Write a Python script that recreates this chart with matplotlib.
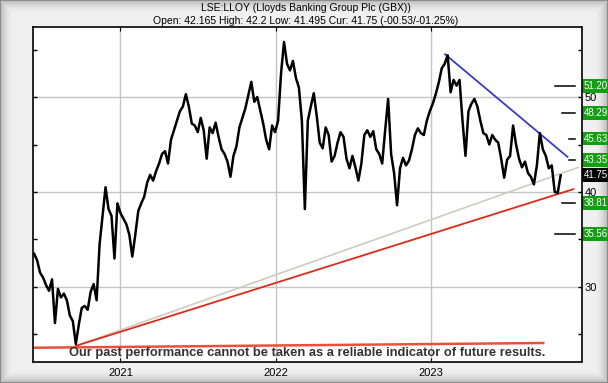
import numpy as np
import pandas as pd
import matplotlib
matplotlib.use('Agg')
import matplotlib.pyplot as plt
import matplotlib.dates as mdates
import matplotlib.transforms as mtransforms

# weekly closes (GBX)
close = [33.5, 32.8, 31.5, 31.0, 30.2, 29.6, 30.8, 26.2, 29.8, 28.9,
         29.3, 28.6, 27.0, 26.4, 24.0, 26.0, 27.8, 28.0, 27.6, 29.5,
         30.3, 28.6, 34.5, 37.5, 40.5, 38.2, 37.5, 33.0, 38.8, 37.8,
         37.2, 36.6, 35.5, 33.2, 35.5, 38.0, 38.8, 39.5, 41.0, 41.8,
         41.2, 42.2, 43.0, 44.0, 44.3, 43.0, 45.5, 46.5, 47.5, 48.5,
         49.0, 50.3, 49.0, 47.2, 47.0, 46.3, 47.8, 46.5, 43.5, 46.8,
         46.2, 47.3, 45.8, 44.5, 44.0, 43.2, 41.6, 43.8, 44.8, 46.8,
         47.8, 48.8, 50.2, 51.6, 49.5, 50.0, 48.6, 47.2, 45.5, 44.5,
         47.0, 46.3, 47.5, 52.5, 55.8, 53.5, 52.8, 53.8, 52.0, 51.0,
         47.5, 38.2, 47.5, 49.0, 50.4, 48.0, 45.2, 44.6, 46.8, 46.0,
         43.2, 43.8, 45.2, 46.3, 45.8, 43.5, 42.5, 43.8, 42.6, 41.2,
         43.0, 46.0, 46.5, 45.8, 46.4, 44.5, 44.0, 43.0, 46.5, 49.8,
         44.0, 42.0, 38.6, 42.5, 43.6, 42.8, 43.3, 44.5, 46.0, 46.7,
         46.2, 46.0, 47.5, 48.5, 49.3, 50.3, 51.5, 53.0, 53.5, 54.4,
         50.5, 51.8, 51.2, 51.8, 47.5, 43.8, 48.5, 49.3, 49.8, 49.0,
         47.5, 46.2, 46.0, 45.0, 46.0, 45.5, 45.2, 43.5, 41.5, 43.4,
         43.8, 47.0, 45.0, 43.5, 42.6, 43.2, 42.0, 41.6, 40.8, 42.8,
         46.2, 44.5, 43.8, 42.5, 42.8, 40.0, 39.9, 41.75]
dates = pd.date_range('2020-06-12', periods=len(close), freq='W-FRI')

# trend lines: (start date, start value, end date, end value)
support_red = ['2020-09-18', 23.8, '2023-12-03', 40.3]
support_grey = ['2020-09-18', 23.8, '2023-12-15', 42.6]
resist_blue = ['2023-02-04', 54.5, '2023-11-19', 43.7]
base_red = ['2020-06-10', 23.6, '2023-09-23', 24.1]

# target levels shown on the right
targets = [51.20, 48.29, 45.63, 43.35, 38.81, 35.56]
target_text = ['51.20', '48.29', '45.63', '43.35', '38.81', '35.56']
target_len = [0.036, 0.024, 0.011, 0.011, 0.024, 0.036]
current = 41.75

title1 = 'LSE:LLOY (Lloyds Banking Group Plc (GBX))'
title2 = 'Open: 42.165 High: 42.2 Low: 41.495 Cur: 41.75 (-00.53/-01.25%)'
disclaimer = 'Our past performance cannot be taken as a reliable indicator of future results.'

W, H = 608, 383
fig = plt.figure(figsize=(W / 100, H / 100), dpi=100)

# bevelled grey frame
bg = fig.add_axes([0, 0, 1, 1])
yy, xx = np.mgrid[0:H, 0:W]
d = np.minimum(np.minimum(xx, W - 1 - xx), np.minimum(yy, H - 1 - yy))
shade = 0.94 - 0.22 * (1 - np.clip(d / 14, 0, 1)) ** 2
shade[d < 1] = 0.55
bg.imshow(shade, cmap='gray', vmin=0, vmax=1, aspect='auto', interpolation='bilinear')
bg.axis('off')

ax = fig.add_axes([33.3 / W, (H - 362) / H, 548.2 / W, (362 - 27.3) / H])
ax.set_facecolor('white')

font = ['Liberation Sans', 'DejaVu Sans']

for lo, v0, hi, v1, col, lw in [(*base_red, '#e8503c', 1.8),
                                (*support_grey, '#cfcbc0', 1.2),
                                (*support_red, '#e02a18', 1.3),
                                (*resist_blue, '#3a3ac8', 1.3)]:
    ax.plot(pd.to_datetime([lo, hi]), [v0, v1], color=col, lw=lw, zorder=3)

ax.plot(dates, close, color='black', lw=1.8, zorder=4)

for t, ln in zip(targets, target_len):
    ax.axhline(t, xmin=0.988 - ln, xmax=0.988, color='black', lw=1.1, zorder=5)

trans = mtransforms.blended_transform_factory(ax.transAxes, ax.transData)
for t, s in zip(targets, target_text):
    ax.text(1.004, t, s, transform=trans, ha='left', va='center', color='white',
            fontsize=7, family=font, clip_on=False, zorder=6,
            bbox=dict(boxstyle='square,pad=0.2', fc='#12a012', ec='none'))
ax.text(1.004, current, '41.75', transform=trans, ha='left', va='center', color='white',
        fontsize=7, family=font, clip_on=False, zorder=6,
        bbox=dict(boxstyle='square,pad=0.2', fc='black', ec='none'))

ax.set_xlim(pd.Timestamp('2020-06-10'), pd.Timestamp('2023-12-22'))
ax.set_ylim(22.1, 57.34)
ax.xaxis.set_major_locator(mdates.YearLocator())
ax.xaxis.set_major_formatter(mdates.DateFormatter('%Y'))
ax.set_yticks([30, 40, 50])
ax.set_yticks([25, 35, 45, 55], minor=True)
ax.yaxis.tick_right()
ax.tick_params(axis='y', which='both', direction='in', left=True, right=True,
               length=3, width=1, labelsize=8, pad=2)
ax.tick_params(axis='x', direction='in', top=True, bottom=True, length=3,
               labelsize=8, pad=4)
for lab in ax.get_xticklabels() + ax.get_yticklabels():
    lab.set_family(font)
ax.grid(True, which='major', color='#c4c4c4', lw=1)
ax.set_axisbelow(True)
for sp in ax.spines.values():
    sp.set_linewidth(1.2)
    sp.set_zorder(7)

ax.text(0.499, 0.028, disclaimer, transform=ax.transAxes, ha='center', va='center',
        fontsize=9.3, fontweight='bold', color='#333333', family=font, zorder=8)

fig.text(306 / W, 1 - 8 / H, title1, ha='center', va='center', fontsize=7.5, family=font)
fig.text(306 / W, 1 - 21 / H, title2, ha='center', va='center', fontsize=7.5, family=font)

fig.savefig('out.png', dpi=100)
